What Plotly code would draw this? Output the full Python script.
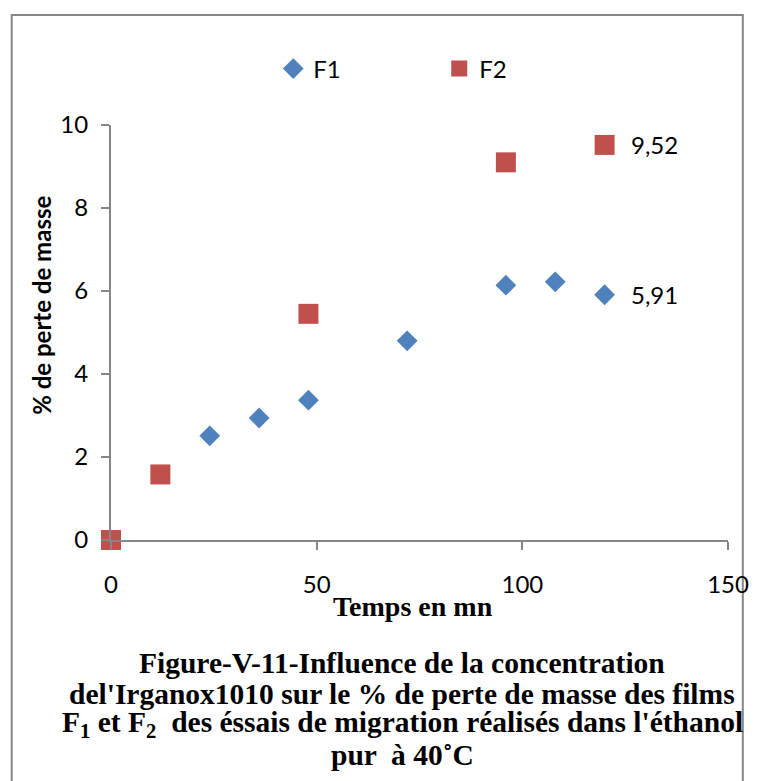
import plotly.graph_objects as go

# temps (mn) et % de perte de masse
f1_temps = [0, 24, 36, 48, 72, 96, 108, 120]
f1_perte = [0, 2.51, 2.94, 3.37, 4.80, 6.14, 6.22, 5.91]
f2_temps = [0, 12, 48, 96, 120]
f2_perte = [0, 1.58, 5.45, 9.10, 9.52]

x_ticks = [0, 50, 100, 150]
y_ticks = [0, 2, 4, 6, 8, 10]

caption_lines = [
    "Figure-V-11-Influence de la concentration",
    "del'Irganox1010 sur le % de perte de masse des films",
    "F<sub>1</sub> et F<sub>2</sub>  des éssais de migration réalisés dans l'éthanol",
    "pur  à 40˚C",
]

axis_grey = "#868686"
sans = "Lato, 'Open Sans', sans-serif"
serif = "'Liberation Serif', 'Times New Roman', serif"

fig = go.Figure()
fig.add_trace(go.Scatter(
    x=f1_temps, y=f1_perte, name="F1", mode="markers",
    marker=dict(symbol="diamond", size=16, color="#4F81BD"),
    cliponaxis=False,
))
fig.add_trace(go.Scatter(
    x=f2_temps, y=f2_perte, name="F2", mode="markers",
    marker=dict(symbol="square", size=20, color="#C0504D"),
    cliponaxis=False,
))

annotations = [
    dict(text="<b>% de perte de masse</b>", xref="paper", yref="paper",
         x=-0.113, y=0.565, textangle=-90, showarrow=False,
         xanchor="center", yanchor="middle", font=dict(family=sans, size=24)),
    dict(text="<b>Temps en mn</b>", xref="paper", yref="paper",
         x=0.489, y=-0.161, showarrow=False, xanchor="center", yanchor="middle",
         font=dict(family=serif, size=28)),
]

# value of the last point of each series, with a decimal comma
for xs, ys in [(f1_temps, f1_perte), (f2_temps, f2_perte)]:
    annotations.append(dict(
        x=xs[-1], y=ys[-1], xref="x", yref="y", showarrow=False,
        text=f"{ys[-1]:.2f}".replace(".", ","), xanchor="left", xshift=24,
        font=dict(family=sans, size=24)))

# caption, one annotation per line to keep the tight line spacing
caption_y = [-0.296, -0.371, -0.443, -0.518]
for line, yy in zip(caption_lines, caption_y):
    annotations.append(dict(
        text="<b>" + line + "</b>", xref="paper", yref="paper",
        x=0.472, y=yy, showarrow=False, xanchor="center", yanchor="middle",
        font=dict(family=serif, size=29.5)))

fig.update_layout(
    width=761, height=781,
    margin=dict(l=111, r=24, t=125, b=241),
    paper_bgcolor="white", plot_bgcolor="white",
    font=dict(family=sans, size=24, color="black"),
    showlegend=True,
    legend=dict(orientation="h", x=0.263, y=1.135, xanchor="left", yanchor="middle",
                entrywidth=121, entrywidthmode="pixels", itemwidth=30,
                font=dict(size=24), bgcolor="rgba(0,0,0,0)"),
    xaxis=dict(range=[0, 150], tickvals=x_ticks, showgrid=False, zeroline=False,
               showline=True, linecolor=axis_grey, linewidth=2,
               ticks="outside", ticklen=8, tickcolor=axis_grey, tickwidth=2,
               ticklabelstandoff=14, ticklabeloverflow="allow",
               tickfont=dict(size=24)),
    yaxis=dict(range=[0, 10], tickvals=y_ticks, showgrid=False, zeroline=False,
               showline=True, linecolor=axis_grey, linewidth=2,
               ticks="outside", ticklen=8, tickcolor=axis_grey, tickwidth=2,
               ticklabelstandoff=8, tickfont=dict(size=24)),
    shapes=[dict(type="rect", xref="paper", yref="paper",
                 x0=-0.161, x1=1.024, y0=-0.7, y1=1.265,
                 line=dict(color=axis_grey, width=2), fillcolor="rgba(0,0,0,0)",
                 layer="below")],
    annotations=annotations,
)

# no body margin, and clip anything past the figure so the page never gets wider
page_fix = (
    "document.body.style.margin = '0';"
    "document.body.style.overflow = 'hidden';"
    "document.querySelectorAll('.plotly-graph-div').forEach(function (d) {"
    " d.style.overflow = 'hidden'; });"
)
fig.write_html("out.html", config={"displayModeBar": False}, post_script=page_fix)
